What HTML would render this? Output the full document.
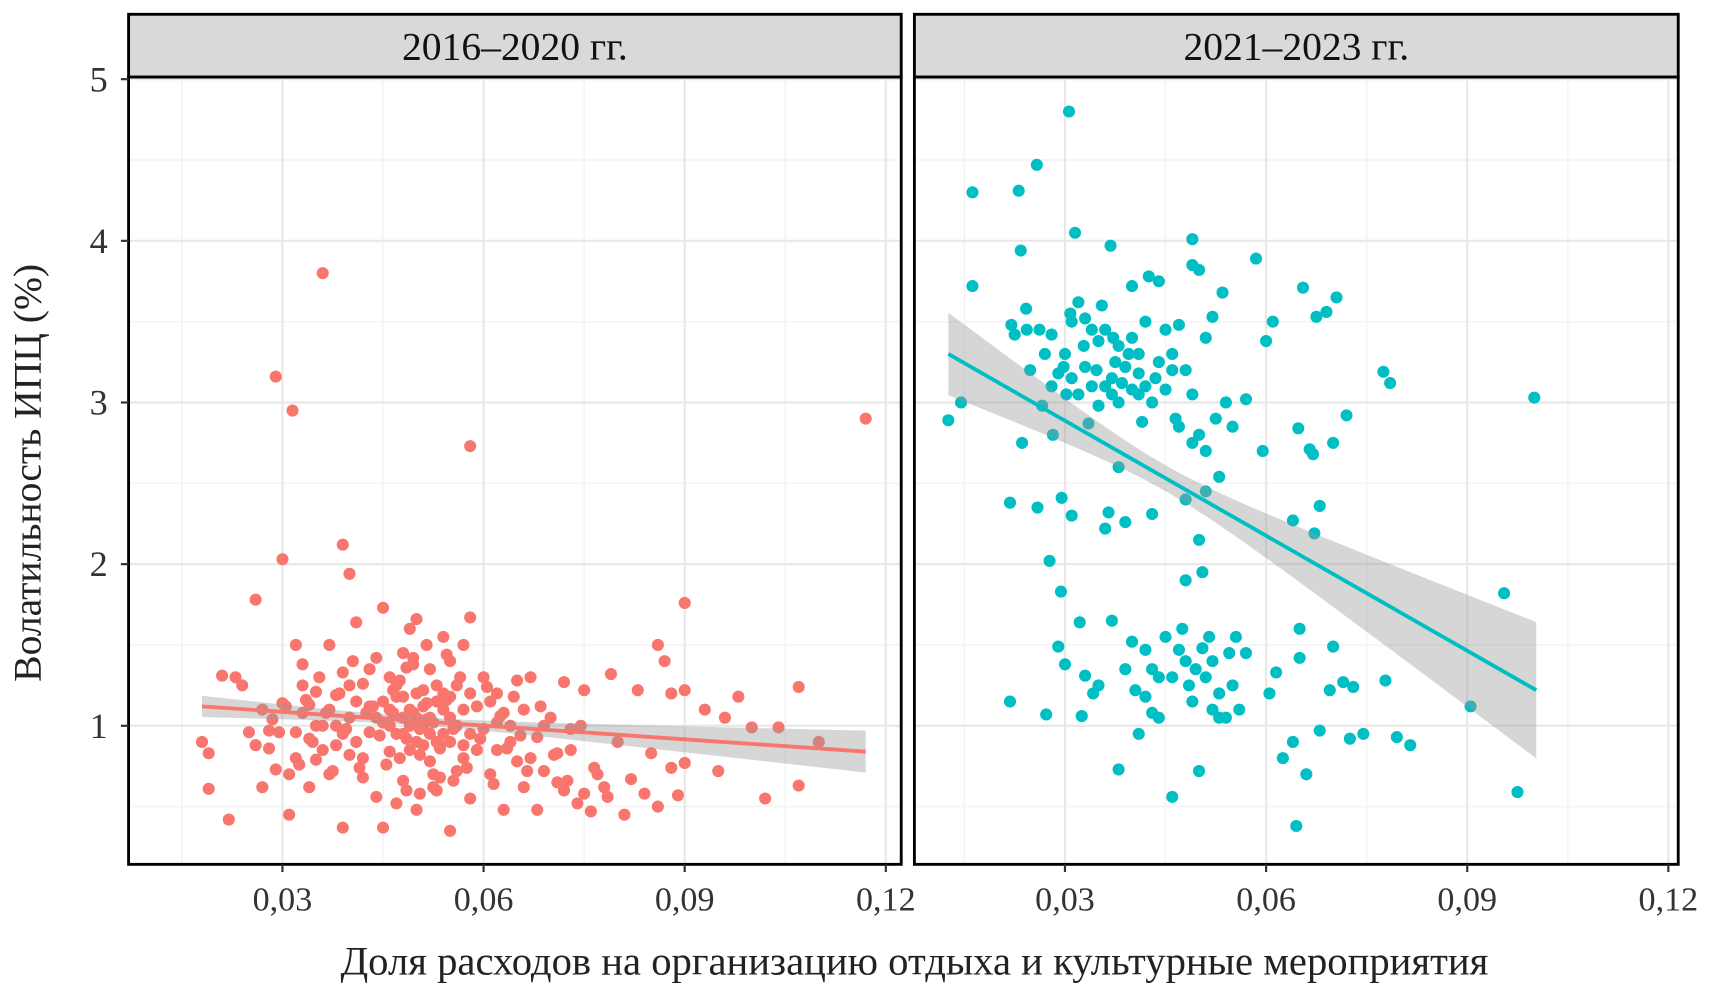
<!DOCTYPE html>
<html><head><meta charset="utf-8"><style>
html,body{margin:0;padding:0;background:#fff;}
svg{display:block;font-family:"Liberation Serif",serif;}
</style></head><body>
<svg id="chart" width="1720" height="993" viewBox="0 0 1565 903" preserveAspectRatio="none" xmlns="http://www.w3.org/2000/svg">
<defs>
<clipPath id="clipL"><rect x="117" y="70" width="703" height="716"/></clipPath>
<clipPath id="clipR"><rect x="832" y="70" width="695" height="716"/></clipPath>
</defs>
<g id="root"></g>
<text x="0" y="0" transform="translate(37,430) rotate(-90)" text-anchor="middle" font-size="36" fill="#222">Волатильность ИПЦ (%)</text>
<text x="832" y="886" text-anchor="middle" font-size="37" fill="#222">Доля расходов на организацию отдыха и культурные мероприятия</text>
</svg>
<script>
const yTicks=[1,2,3,4,5];
const yTickLabels=["1","2","3","4","5"];
const xTicks=[0.03,0.06,0.09,0.12];
const xTickLabels=["0,03","0,06","0,09","0,12"];
const panelTitles=["2016–2020 гг.","2021–2023 гг."];
const leftX=[0.018,0.019,0.019,0.021,0.022,0.023,0.024,0.025,0.026,0.026,0.027,0.027,0.028,0.028,0.029,0.029,0.030,0.030,0.031,0.031,0.0315,0.032,0.032,0.033,0.033,0.034,0.034,0.035,0.035,0.036,0.036,0.037,0.037,0.038,0.038,0.039,0.039,0.039,0.040,0.040,0.040,0.041,0.041,0.042,0.042,0.043,0.043,0.044,0.044,0.045,0.045,0.045,0.046,0.046,0.047,0.047,0.048,0.048,0.048,0.049,0.049,0.050,0.050,0.050,0.051,0.051,0.052,0.052,0.053,0.053,0.054,0.054,0.055,0.055,0.055,0.056,0.056,0.057,0.057,0.058,0.058,0.058,0.059,0.060,0.060,0.061,0.062,0.062,0.063,0.063,0.064,0.065,0.065,0.066,0.067,0.068,0.068,0.069,0.070,0.071,0.072,0.072,0.073,0.074,0.075,0.076,0.077,0.078,0.079,0.080,0.081,0.082,0.083,0.084,0.085,0.086,0.086,0.087,0.088,0.088,0.089,0.090,0.090,0.090,0.093,0.095,0.096,0.098,0.100,0.102,0.104,0.107,0.107,0.110,0.117,
0.044,0.045,0.046,0.046,0.047,0.047,0.048,0.048,0.049,0.049,0.050,0.050,0.051,0.051,0.052,0.052,0.053,0.053,0.054,0.054,0.055,0.055,0.056,0.057,0.057,0.058,0.058,0.059,0.043,0.042,0.041,0.040,0.039,0.038,0.037,0.036,0.035,0.034,0.033,0.032,0.061,0.062,0.064,0.066,0.067,0.069,0.071,0.073,0.075,
0.0495,0.0505,0.0515,0.0525,0.0535,0.0545,0.0485,0.0475,0.0465,0.0455,0.0445,0.0435,0.0555,0.0565,0.0575,0.0495,0.0505,0.0515,0.0525,0.0535,0.0485,0.0475,0.0465,0.0455,0.0545,0.0555,0.0425,0.0415,0.0405,0.0395,0.0385,0.0375,0.0365,0.0355,0.0345,0.0335,0.0325,0.0305,0.0295,0.0285,0.0595,0.0605,0.0615,0.0625,0.0635,0.0645,0.0655,0.0665,0.0685,0.0705,0.0725,0.0745,0.0765,0.0785,0.0505,0.0495,0.0515,0.0525,0.0485,0.0535];
const leftY=[0.90,0.83,0.61,1.31,0.42,1.30,1.25,0.96,1.78,0.88,0.62,1.10,0.97,0.86,3.16,0.73,2.03,1.14,0.45,0.70,2.95,1.50,0.96,1.38,1.08,0.62,1.13,0.79,1.21,3.80,1.0,1.50,0.70,1.19,0.88,0.37,2.12,1.33,1.94,0.82,1.05,1.64,0.90,1.26,0.68,1.12,0.96,1.42,0.56,1.73,0.37,1.02,1.30,0.84,0.52,1.18,1.45,0.95,0.66,1.60,1.10,1.66,0.90,0.48,1.22,1.00,0.78,1.35,1.15,0.60,1.55,0.95,0.35,1.40,1.05,0.72,1.25,1.50,0.88,2.73,1.67,0.55,1.12,0.98,1.30,0.70,1.20,0.85,1.08,0.48,1.00,1.28,0.78,0.62,1.30,0.93,0.48,0.72,1.05,0.83,1.27,0.60,0.98,0.52,1.22,0.47,0.70,0.62,1.32,0.90,0.45,0.67,1.22,0.58,0.83,1.50,0.50,1.40,0.74,1.20,0.57,1.76,1.22,0.77,1.10,0.72,1.05,1.18,0.99,0.55,0.99,1.24,0.63,0.90,2.90,
1.05,1.15,1.00,1.10,0.95,1.25,1.05,1.18,0.85,1.00,1.05,1.20,0.88,1.12,1.05,0.95,1.25,0.90,1.10,1.20,0.90,1.18,1.00,1.10,0.80,1.20,0.95,0.85,1.35,0.80,1.15,1.25,0.95,1.00,1.10,0.85,1.00,0.92,1.25,0.80,1.15,1.02,0.90,1.10,0.80,1.00,0.65,0.85,0.58,
1.08,0.98,1.14,1.02,0.88,1.16,0.92,1.28,1.08,0.76,0.94,1.12,0.98,1.30,0.74,1.38,0.82,1.04,0.70,0.86,1.36,0.80,1.22,1.02,1.44,0.66,1.08,0.74,1.40,0.98,1.20,0.72,1.08,1.30,0.90,1.16,0.76,1.12,0.96,1.04,0.92,1.24,0.64,1.06,0.86,1.18,0.94,0.72,1.12,0.82,0.66,1.00,0.74,0.56,0.58,1.42,1.50,0.62,0.60,0.68];
const rightX=[0.0126,0.0145,0.0162,0.0162,0.0218,0.0218,0.022,0.0225,0.0231,0.0234,0.0236,0.0242,0.0243,0.0248,0.0258,0.0259,0.0262,0.0266,0.027,0.0272,0.0277,0.028,0.0282,0.029,0.0294,0.0295,0.0298,0.030,0.0302,0.0306,0.0308,0.031,0.031,0.0315,0.032,0.0322,0.0325,0.0328,0.033,0.0335,0.034,0.0342,0.0347,0.035,0.0355,0.036,0.036,0.0365,0.0368,0.037,0.0372,0.0375,0.038,0.038,0.0385,0.039,0.039,0.0395,0.040,0.040,0.0405,0.041,0.041,0.0415,0.042,0.042,0.0425,0.043,0.043,0.0435,0.044,0.044,0.045,0.045,0.046,0.046,0.0465,0.047,0.047,0.0475,0.048,0.048,0.0485,0.049,0.049,0.049,0.0495,0.050,0.050,0.050,0.0505,0.0505,0.051,0.051,0.0515,0.052,0.052,0.0525,0.053,0.053,0.0535,0.054,0.054,0.0545,0.055,0.0555,0.056,0.057,0.057,0.0585,0.0595,0.060,0.0605,0.061,0.0615,0.0625,0.064,0.064,0.0645,0.0648,0.065,0.065,0.0655,0.066,0.0665,0.067,0.0672,0.0675,0.068,0.068,0.069,0.0695,0.070,0.070,0.0705,0.0715,0.072,0.0725,0.073,0.0745,0.0775,0.0778,0.0785,0.0795,0.0815,0.0905,0.0955,0.0975,0.100,
0.028,0.029,0.030,0.031,0.032,0.033,0.033,0.034,0.035,0.035,0.036,0.037,0.037,0.038,0.038,0.039,0.040,0.040,0.041,0.041,0.042,0.043,0.044,0.045,0.046,0.047,0.048,0.049,0.050,0.051,0.042,0.043,0.044,0.046,0.048,0.049,0.051,0.052,0.053,0.055];
const rightY=[2.89,3.0,4.30,3.72,2.38,1.15,3.48,3.42,4.31,3.94,2.75,3.58,3.45,3.20,4.47,2.35,3.45,2.98,3.30,1.07,2.02,3.10,2.80,1.49,1.83,2.41,3.22,1.38,3.05,4.80,3.55,2.30,3.15,4.05,3.62,1.64,1.06,3.35,1.31,2.87,3.45,1.20,3.20,1.25,3.60,2.22,3.10,2.32,3.97,1.65,3.40,3.25,2.60,0.73,3.12,1.35,2.26,3.30,1.52,3.72,1.22,0.95,3.05,2.88,1.47,3.50,3.78,1.08,2.31,3.15,1.30,3.75,3.45,1.55,0.56,3.20,2.90,1.47,3.48,1.60,1.90,2.40,1.25,4.01,3.85,2.75,1.35,3.82,0.72,2.15,1.48,1.95,3.40,2.45,1.55,3.53,1.10,2.90,1.20,2.54,3.68,1.05,3.0,1.45,2.85,1.55,1.10,3.02,1.45,3.89,2.70,3.38,1.20,3.50,1.33,0.80,2.27,0.90,0.38,2.84,1.42,1.60,3.71,0.70,2.71,2.68,2.19,3.53,2.36,0.97,3.56,1.22,2.75,1.49,3.65,1.27,2.92,0.92,1.24,0.95,3.19,1.28,3.12,0.93,0.88,1.12,1.82,0.59,3.03,
3.42,3.18,3.30,3.50,3.05,3.22,3.52,3.10,3.38,2.98,3.45,3.05,3.15,3.35,3.0,3.22,3.08,3.40,3.30,3.18,3.10,3.0,3.25,3.08,3.30,2.85,3.20,3.05,2.80,2.70,1.18,1.35,1.05,1.30,1.40,1.15,1.30,1.40,1.05,1.25];
const leftFit={x0:0.018,x1:0.117,y0:1.12,y1:0.84,m:0.05,a:0.000625,b:3.63};
const rightFit={x0:0.0126,x1:0.1003,y0:3.30,y1:1.22,m:0.045,a:0.0064,b:56};

const NS="http://www.w3.org/2000/svg";
const root=document.getElementById('root');
function mk(tag,attrs,parent){const e=document.createElementNS(NS,tag);for(const k in attrs)e.setAttribute(k,attrs[k]);(parent||root).appendChild(e);return e;}
const yScale=v=>660-(v-1)*147;
const panels=[
 {x0:117,x1:820,x30:257,clip:'clipL',xs:leftX,ys:leftY,fit:leftFit,color:'#F8766D',name:'left'},
 {x0:832,x1:1527,x30:969,clip:'clipR',xs:rightX,ys:rightY,fit:rightFit,color:'#00BFC4',name:'right'}
];
panels.forEach((p,pi)=>{
 const xScale=v=>p.x30+(v-0.03)*6100;
 const g=mk('g',{});
 
 
 mk('rect',{x:p.x0,y:70,width:p.x1-p.x0,height:716,fill:'#fff'},g);
 for(let v=0.015;v<0.13;v+=0.03){const x=xScale(v);if(x>p.x0&&x<p.x1)mk('line',{x1:x,x2:x,y1:70,y2:786,stroke:'#f4f4f4','stroke-width':1.5},g);}
 for(let v=0.5;v<5.2;v+=1){const y=yScale(v);if(y>70&&y<786)mk('line',{x1:p.x0,x2:p.x1,y1:y,y2:y,stroke:'#f4f4f4','stroke-width':1.5},g);}
 xTicks.forEach(v=>{const x=xScale(v);if(x>p.x0&&x<p.x1)mk('line',{x1:x,x2:x,y1:70,y2:786,stroke:'#e8e8e8','stroke-width':2},g);});
 yTicks.forEach(v=>{const y=yScale(v);mk('line',{x1:p.x0,x2:p.x1,y1:y,y2:y,stroke:'#e8e8e8','stroke-width':2},g);});
 const cg=mk('g',{'clip-path':'url(#'+p.clip+')'},g);
 for(let i=0;i<p.xs.length;i++){
  const c=mk('circle',{cx:xScale(p.xs[i]),cy:yScale(p.ys[i]),r:5.5,fill:p.color},cg);
  
  
 }
 const f=p.fit;const N=40;let up=[],lo=[];
 for(let k=0;k<=N;k++){const xv=f.x0+(f.x1-f.x0)*k/N;const yv=f.y0+(f.y1-f.y0)*k/N;const h=Math.sqrt(f.a+f.b*(xv-f.m)*(xv-f.m));up.push(xScale(xv)+','+yScale(yv+h));lo.unshift(xScale(xv)+','+yScale(yv-h));}
 const band=mk('polygon',{points:up.concat(lo).join(' '),fill:'#999','fill-opacity':0.4},cg);
 
 
 const ln=mk('line',{x1:xScale(f.x0),y1:yScale(f.y0),x2:xScale(f.x1),y2:yScale(f.y1),stroke:p.color,'stroke-width':3.5},cg);
 
 
 mk('rect',{x:p.x0,y:70,width:p.x1-p.x0,height:716,fill:'none',stroke:'#000','stroke-width':2.6},g);
 const st=mk('rect',{x:p.x0,y:13,width:p.x1-p.x0,height:57,fill:'#d9d9d9',stroke:'#000','stroke-width':2.6},g);
 
 
 const tt=mk('text',{x:(p.x0+p.x1)/2,y:54,'text-anchor':'middle','font-size':36,fill:'#111'},g);
 tt.textContent=panelTitles[pi];
 
 
 xTicks.forEach((v,i)=>{const x=xScale(v);
  mk('line',{x1:x,x2:x,y1:786,y2:793,stroke:'#333','stroke-width':2},g);
  const t=mk('text',{x:x,y:828,'text-anchor':'middle','font-size':31,fill:'#333'},g);
  t.textContent=xTickLabels[i];
  
  
 });
});
yTicks.forEach((v,i)=>{const y=yScale(v);
 mk('line',{x1:110,x2:117,y1:y,y2:y,stroke:'#333','stroke-width':2});
 const t=mk('text',{x:98,y:y+11,'text-anchor':'end','font-size':33,fill:'#333'});
 t.textContent=yTickLabels[i];
 
 
});
</script>
</body></html>
